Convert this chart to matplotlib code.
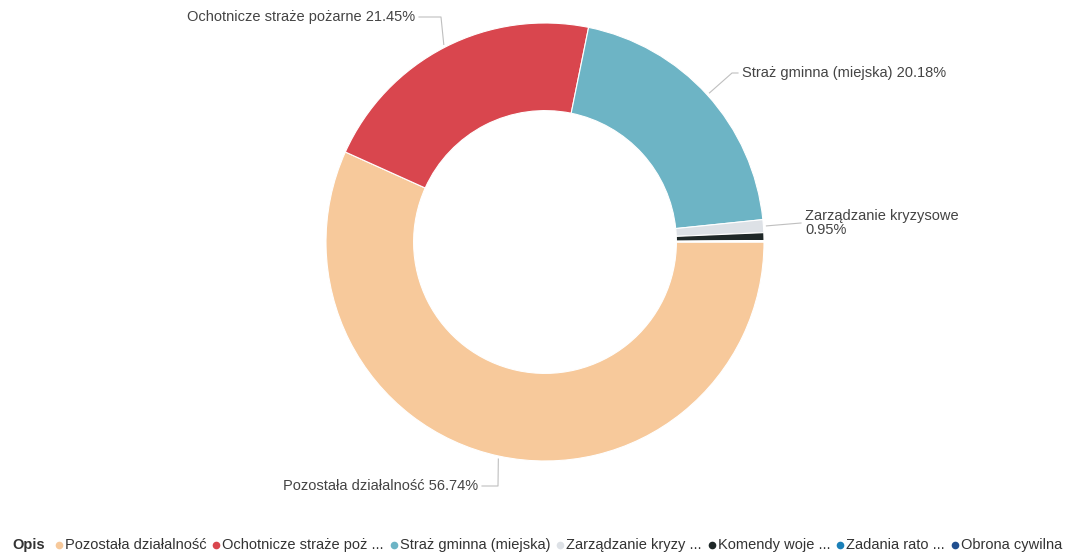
"""Wykres pierścieniowy: struktura wydatków wg opisu."""

import matplotlib.pyplot as plt
import numpy as np

categories = [
    "Pozostała działalność",
    "Ochotnicze straże pożarne",
    "Straż gminna (miejska)",
    "Zarządzanie kryzysowe",
    "Komendy wojewódzkie",
    "Zadania ratownictwa",
    "Obrona cywilna",
]
shares = [56.74, 21.45, 20.18, 0.95, 0.58, 0.05, 0.05]
label_texts = [
    "Pozostała działalność 56.74%",
    "Ochotnicze straże pożarne 21.45%",
    "Straż gminna (miejska) 20.18%",
    "Zarządzanie kryzysowe\n0.95%",
]
legend_texts = [
    "Pozostała działalność",
    "Ochotnicze straże poż ...",
    "Straż gminna (miejska)",
    "Zarządzanie kryzy ...",
    "Komendy woje ...",
    "Zadania rato ...",
    "Obrona cywilna",
]
colors = ["#F7C99B", "#D9464E", "#6DB4C5", "#DDE1E6", "#1F2828", "#1B80B8", "#214F8F"]

W, H = 1073, 553
CX, CY, R = 545, 242, 219
WIDTH = 0.40

plt.rcParams["font.family"] = ["Liberation Sans", "DejaVu Sans"]


def main() -> None:
    fig = plt.figure(figsize=(W / 100, H / 100), dpi=100)
    ax = fig.add_axes([0, 0, 1, 1])

    wedges, _ = ax.pie(
        shares,
        colors=colors,
        center=(CX, H - CY),
        radius=R,
        startangle=0,
        counterclock=False,
        wedgeprops=dict(width=R * WIDTH, edgecolor="white", linewidth=0.8),
        frame=False,
    )
    ax.set_xlim(0, W)
    ax.set_ylim(0, H)
    ax.set_aspect("equal")
    ax.axis("off")

    # etykiety z liniami odniesienia: (x, y, wyrównanie, łokieć)
    label_pos = [
        (478, 486, "right", 16),
        (415, 17, "right", 22),
        (742, 73, "left", 6),
        (805, 223, "left", 0),
    ]
    for w, text, (tx, ty, ha, elbow) in zip(wedges, label_texts, label_pos):
        ang = np.deg2rad((w.theta1 + w.theta2) / 2)
        x0 = CX + (R + 3) * np.cos(ang)
        y0 = (H - CY) + (R + 3) * np.sin(ang)
        sign = 1 if ha == "right" else -1
        xe = tx + 4 * sign
        xm = xe + elbow * sign
        ax.plot([x0, xm, xe], [y0, H - ty, H - ty], color="#BFBFBF", lw=0.8)
        ax.text(tx, H - ty, text, ha=ha, va="center", fontsize=10.5,
                color="#444444", linespacing=0.95)

    # legenda, układana kolejno od lewej
    fig.canvas.draw()
    renderer = fig.canvas.get_renderer()
    ly = H - 545
    t = ax.text(12, ly, "Opis", fontsize=10.5, color="#333333",
                fontweight="bold", va="center")
    x = t.get_window_extent(renderer).x1 + 14
    for text, c in zip(legend_texts, colors):
        ax.plot(x, ly, "o", ms=5.5, color=c, mec="none")
        t = ax.text(x + 6, ly, text, fontsize=10.5, color="#333333", va="center")
        x = t.get_window_extent(renderer).x1 + 10

    fig.savefig("out.png", dpi=100, facecolor="white")
    plt.close(fig)


if __name__ == "__main__":
    main()
